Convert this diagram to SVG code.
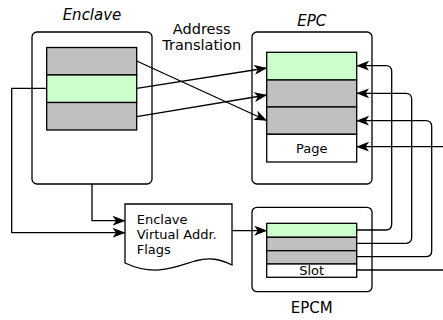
<svg xmlns="http://www.w3.org/2000/svg" width="443" height="320" viewBox="0 0 443 320">
<defs>
<marker id="arr" viewBox="0 0 13 10" refX="12.5" refY="5" markerWidth="13" markerHeight="10" markerUnits="userSpaceOnUse" orient="auto">
<path d="M0,0 L13,5 L0,10 L3.5,5 Z" fill="#000"/>
</marker>
<style>
.box{fill:#fff;stroke:#000;stroke-width:1.3}
.g{fill:#c0c0c0;stroke:#000;stroke-width:1.3}
.gr{fill:#ccffcc;stroke:#000;stroke-width:1.3}
.w{fill:#fff;stroke:#000;stroke-width:1.3}
.c{fill:none;stroke:#000;stroke-width:1.3;marker-end:url(#arr)}
.l{fill:none;stroke:#000;stroke-width:1.3}
text{font-family:"DejaVu Sans",sans-serif;fill:#000}
.it{font-style:italic;font-size:15px}
</style>
</defs>
<g id="enclave">
<rect class="box" x="32" y="32" width="120" height="152" rx="5"/>
<rect class="g" x="46.7" y="47.5" width="90" height="27.5"/>
<rect class="gr" x="46.7" y="75" width="90" height="27.5"/>
<rect class="g" x="46.7" y="102.5" width="90" height="27.5"/>
<text class="it" x="92" y="20" text-anchor="middle">Enclave</text>
</g>
<g id="epc">
<rect class="box" x="252" y="32" width="120" height="152" rx="5"/>
<rect class="gr" x="266.7" y="52.3" width="90" height="27.7"/>
<rect class="g" x="266.7" y="80" width="90" height="27"/>
<rect class="g" x="266.7" y="107" width="90" height="27.3"/>
<rect class="w" x="266.7" y="134.3" width="90" height="27.7"/>
<text x="311.7" y="153" font-size="13" text-anchor="middle">Page</text>
<text class="it" x="311.7" y="26" text-anchor="middle">EPC</text>
</g>
<g id="epcm">
<rect class="box" x="252" y="207.3" width="120" height="84.4" rx="5"/>
<rect class="gr" x="266.7" y="223.3" width="90" height="14"/>
<rect class="g" x="266.7" y="237.3" width="90" height="13.4"/>
<rect class="g" x="266.7" y="250.7" width="90" height="13.3"/>
<rect class="w" x="266.7" y="264" width="90" height="13.3"/>
<text x="311.7" y="275.3" font-size="13" text-anchor="middle">Slot</text>
<text x="311.7" y="313" font-size="15" text-anchor="middle">EPCM</text>
</g>
<g id="doc">
<path class="w" d="M125,204 H232 V265 C220,259 210,257 195,261 C175,267 155,277 125,263 Z"/>
<text x="136.7" y="224.3" font-size="13">Enclave</text>
<text x="136.7" y="239.3" font-size="13">Virtual Addr.</text>
<text x="136.7" y="254" font-size="13">Flags</text>
</g>
<g id="label">
<text x="201.7" y="33.5" font-size="14.5" text-anchor="middle">Address</text>
<text x="201.7" y="50" font-size="14.5" text-anchor="middle">Translation</text>
</g>
<g id="connectors">
<path class="c" d="M136.7,61 L266.7,120.5"/>
<path class="c" d="M136.7,88.3 L266.7,68"/>
<path class="c" d="M136.7,116.7 L266.7,95"/>
<path class="c" d="M92,184 V220.7 H125"/>
<path class="c" d="M46.7,88.3 H11.7 V232.7 H125"/>
<path class="c" d="M232,230.7 H266.7"/>
<path class="c" d="M356.7,230 H385.7 Q391.7,230 391.7,224 V71.7 Q391.7,65.7 385.7,65.7 H356.7"/>
<path class="c" d="M356.7,243.3 H405.7 Q411.7,243.3 411.7,237.3 V99.3 Q411.7,93.3 405.7,93.3 H356.7"/>
<path class="c" d="M356.7,256.7 H425.7 Q431.7,256.7 431.7,250.7 V126.7 Q431.7,120.7 425.7,120.7 H356.7"/>
<path class="l" d="M356.7,270 H443"/>
<path class="c" d="M443,146.7 H356.7"/>
</g>
</svg>
